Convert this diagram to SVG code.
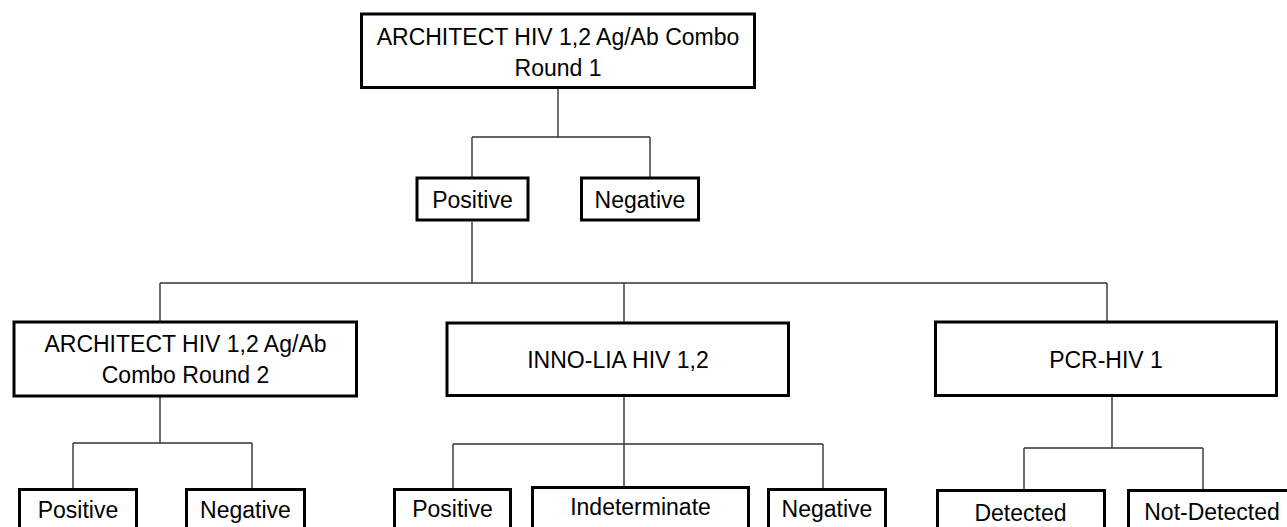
<svg xmlns="http://www.w3.org/2000/svg" width="1287" height="527" viewBox="0 0 1287 527">
<style>
.box{fill:#fff;stroke:#000;stroke-width:3}
.lbl{font-family:"Liberation Sans",Arial,sans-serif;font-size:23px;fill:#000;text-anchor:middle}
.conn path{fill:none;stroke:#333;stroke-width:1.4}
</style>
<rect width="1287" height="527" fill="#fff"/>
<g class="conn" id="connectors">
<path d="M558 89V137M472 137H650M472 137V177M650 137V177"/>
<path d="M472 222V283M160 283H1107M160 283V321M624 283V322M1107 283V321"/>
<path d="M160 397V443M73 443H252M73 443V488M252 443V488"/>
<path d="M624 397V487M453 444H823M453 444V488M823 444V488"/>
<path d="M1112 397V448M1024 448H1203M1024 448V489M1203 448V489"/>
</g>
<g id="n-root"><rect class="box" x="361.5" y="14" width="393" height="73.5"/><text class="lbl" x="558" y="45">ARCHITECT HIV 1,2 Ag/Ab Combo</text><text class="lbl" x="558" y="76">Round 1</text></g>
<g id="n-pos1"><rect class="box" x="417" y="178" width="111" height="42"/><text class="lbl" x="472.5" y="208">Positive</text></g>
<g id="n-neg1"><rect class="box" x="581.5" y="178" width="117" height="42"/><text class="lbl" x="640" y="208">Negative</text></g>
<g id="n-arch2"><rect class="box" x="14" y="322" width="342.5" height="74"/><text class="lbl" x="185.5" y="352">ARCHITECT HIV 1,2 Ag/Ab</text><text class="lbl" x="185.5" y="383">Combo Round 2</text></g>
<g id="n-inno"><rect class="box" x="447" y="323" width="341.5" height="72.5"/><text class="lbl" x="618" y="368">INNO-LIA HIV 1,2</text></g>
<g id="n-pcr"><rect class="box" x="935.5" y="322" width="341" height="73.5"/><text class="lbl" x="1106" y="368">PCR-HIV 1</text></g>
<g id="n-pos2"><rect class="box" x="19.5" y="489.5" width="117" height="60"/><text class="lbl" x="78" y="518">Positive</text></g>
<g id="n-neg2"><rect class="box" x="186.5" y="489.5" width="118" height="60"/><text class="lbl" x="245.5" y="518">Negative</text></g>
<g id="n-pos3"><rect class="box" x="394.5" y="489.5" width="116" height="60"/><text class="lbl" x="452.5" y="517">Positive</text></g>
<g id="n-indet"><rect class="box" x="532.5" y="487.5" width="216" height="60"/><text class="lbl" x="640.5" y="515">Indeterminate</text></g>
<g id="n-neg3"><rect class="box" x="768.5" y="489.5" width="117" height="60"/><text class="lbl" x="827" y="517">Negative</text></g>
<g id="n-det"><rect class="box" x="937.5" y="490.5" width="167" height="60"/><text class="lbl" x="1020.5" y="521">Detected</text></g>
<g id="n-notdet"><rect class="box" x="1128.5" y="490.5" width="200" height="60"/><text class="lbl" x="1212" y="520">Not-Detected</text></g>
</svg>
